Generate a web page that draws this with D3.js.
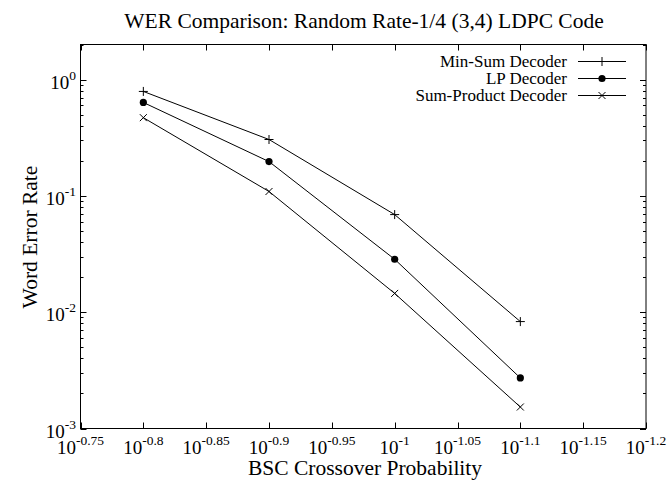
<!DOCTYPE html>
<html><head><meta charset="utf-8">
<script src="https://cdn.jsdelivr.net/npm/d3@7"></script>
<style>body{margin:0;background:#fff}svg{display:block}text{font-family:"Liberation Serif","Times New Roman",serif;fill:#000}</style>
</head><body>
<script>
const xExponents = [-0.8, -0.9, -1.0, -1.1];
const minSum = [0.79, 0.305, 0.069, 0.0083];
const lpDecoder = [0.635, 0.197, 0.0285, 0.00272];
const sumProduct = [0.47, 0.109, 0.0145, 0.00153];
const seriesNames = ["Min-Sum Decoder", "LP Decoder", "Sum-Product Decoder"];
const xTickExps = [-0.75, -0.8, -0.85, -0.9, -0.95, -1, -1.05, -1.1, -1.15, -1.2];
const yTickExps = [0, -1, -2, -3];

const W = 668, H = 483;
const m = {l: 80.5, r: 646, t: 44.5, b: 428.5};
const svg = d3.select("body").append("svg").attr("width", W).attr("height", H);

const x = d3.scaleLinear().domain([-0.75, -1.2]).range([m.l, m.r]);
const y = d3.scaleLog().domain([1e-3, 2]).range([m.b, m.t]);

svg.append("rect").attr("x", m.l).attr("y", m.t).attr("width", m.r - m.l).attr("height", m.b - m.t)
  .attr("fill", "none").attr("stroke", "#000").attr("stroke-width", 1);

xTickExps.forEach(e => {
  const px = Math.round(x(e)) + 0.5;
  svg.append("line").attr("x1", px).attr("x2", px).attr("y1", m.b).attr("y2", m.b - 6).attr("stroke", "#000");
  svg.append("line").attr("x1", px).attr("x2", px).attr("y1", m.t).attr("y2", m.t + 6).attr("stroke", "#000");
  const t = svg.append("text").attr("x", x(e)).attr("y", 454).attr("text-anchor", "middle").style("font-size", "19px");
  t.append("tspan").text("10");
  t.append("tspan").attr("dy", -9).style("font-size", "13.5px").text(String(e));
});

yTickExps.forEach(e => {
  const py = Math.round(y(Math.pow(10, e))) + 0.5;
  svg.append("line").attr("x1", m.l).attr("x2", m.l + 6).attr("y1", py).attr("y2", py).attr("stroke", "#000");
  svg.append("line").attr("x1", m.r).attr("x2", m.r - 6).attr("y1", py).attr("y2", py).attr("stroke", "#000");
  const t = svg.append("text").attr("x", 76).attr("y", py + 8.5).attr("text-anchor", "end").style("font-size", "19px");
  t.append("tspan").text("10");
  t.append("tspan").attr("dy", -9).style("font-size", "13.5px").text(String(e));
});
for (let d = -3; d <= 0; d++) {
  for (let k = 2; k <= 9; k++) {
    const v = k * Math.pow(10, d);
    if (v > 2) continue;
    const py = Math.round(y(v)) + 0.5;
    svg.append("line").attr("x1", m.l).attr("x2", m.l + 3).attr("y1", py).attr("y2", py).attr("stroke", "#000");
    svg.append("line").attr("x1", m.r).attr("x2", m.r - 3).attr("y1", py).attr("y2", py).attr("stroke", "#000");
  }
}

svg.append("text").attr("x", 364).attr("y", 28).attr("text-anchor", "middle").style("font-size", "21.5px")
  .text("WER Comparison: Random Rate-1/4 (3,4) LDPC Code");
svg.append("text").attr("x", 365).attr("y", 475).attr("text-anchor", "middle").style("font-size", "21.5px")
  .text("BSC Crossover Probability");
svg.append("text").attr("transform", "translate(37,237) rotate(-90)").attr("text-anchor", "middle").style("font-size", "21.5px")
  .text("Word Error Rate");

const allSeries = [minSum, lpDecoder, sumProduct];
const line = d3.line().x(d => x(d[0])).y(d => y(d[1]));

function marker(g, kind, cx, cy) {
  if (kind === 0) {
    g.append("line").attr("x1", cx - 4.5).attr("x2", cx + 4.5).attr("y1", cy).attr("y2", cy).attr("stroke", "#000");
    g.append("line").attr("x1", cx).attr("x2", cx).attr("y1", cy - 4.5).attr("y2", cy + 4.5).attr("stroke", "#000");
  } else if (kind === 1) {
    g.append("circle").attr("cx", cx).attr("cy", cy).attr("r", 3.6).attr("fill", "#000");
  } else {
    g.append("line").attr("x1", cx - 3.5).attr("x2", cx + 3.5).attr("y1", cy - 3.5).attr("y2", cy + 3.5).attr("stroke", "#000");
    g.append("line").attr("x1", cx - 3.5).attr("x2", cx + 3.5).attr("y1", cy + 3.5).attr("y2", cy - 3.5).attr("stroke", "#000");
  }
}

allSeries.forEach((vals, i) => {
  const pts = xExponents.map((e, j) => [e, vals[j]]);
  svg.append("path").attr("d", line(pts)).attr("fill", "none").attr("stroke", "#000").attr("stroke-width", 1);
  const g = svg.append("g");
  pts.forEach(p => marker(g, i, x(p[0]), y(p[1])));
});

const legY = [61, 78, 95];
seriesNames.forEach((n, i) => {
  const ly = legY[i] + 0.5;
  svg.append("text").attr("x", 567).attr("y", ly + 5.5).attr("text-anchor", "end").style("font-size", "17px").text(n);
  svg.append("line").attr("x1", 578).attr("x2", 626).attr("y1", ly).attr("y2", ly).attr("stroke", "#000");
  marker(svg, i, 602, ly);
});
</script>
</body></html>
